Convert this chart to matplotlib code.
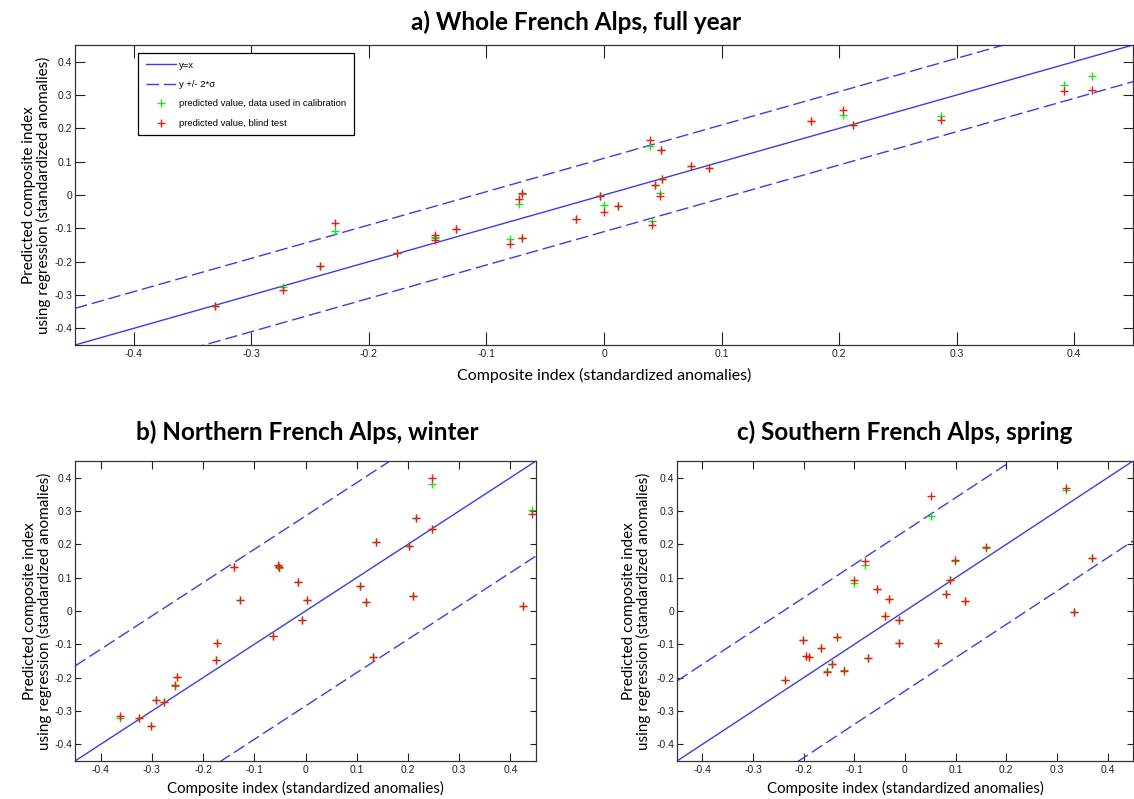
import numpy as np
import matplotlib
matplotlib.use("Agg")
import matplotlib.pyplot as plt
from matplotlib import font_manager

# ---------------------------------------------------------------- data
# a) whole French Alps, full year
xa = [-0.331, -0.273, -0.242, -0.229, -0.176, -0.144, -0.144, -0.126,
      -0.080, -0.0725, -0.070, -0.070, -0.024, -0.003, 0.000, 0.0115,
      0.039, 0.0485, 0.043, 0.049, 0.048, 0.041, 0.074, 0.089,
      0.176, 0.203, 0.212, 0.287, 0.391, 0.415]
ya_cal = [-0.334, -0.276, -0.214, -0.108, -0.174, -0.125, -0.130, -0.103,
          -0.132, -0.028, 0.002, -0.129, -0.073, -0.003, -0.031, -0.033,
          0.146, 0.135, 0.031, 0.047, 0.005, -0.078, 0.087, 0.082,
          0.221, 0.240, 0.210, 0.236, 0.331, 0.356]
ya_blind = [-0.334, -0.284, -0.212, -0.083, -0.174, -0.121, -0.134, -0.103,
            -0.146, -0.013, 0.007, -0.129, -0.073, -0.003, -0.050, -0.033,
            0.166, 0.135, 0.031, 0.047, -0.003, -0.090, 0.087, 0.082,
            0.221, 0.255, 0.210, 0.224, 0.311, 0.315]
sig2_a = 0.11

# b) northern French Alps, winter
xb = [-0.363, -0.325, -0.301, -0.291, -0.276, -0.254, -0.250, -0.175,
      -0.172, -0.139, -0.127, -0.064, -0.054, -0.051, -0.014, -0.006,
      0.002, 0.107, 0.118, 0.132, 0.137, 0.203, 0.210, 0.216,
      0.247, 0.247, 0.424, 0.442]
yb_cal = [-0.320, -0.322, -0.344, -0.268, -0.272, -0.226, -0.199, -0.146,
          -0.096, 0.133, 0.034, -0.074, 0.134, 0.130, 0.086, -0.026,
          0.034, 0.074, 0.026, -0.138, 0.206, 0.194, 0.046, 0.280,
          0.382, 0.247, 0.016, 0.302]
yb_blind = [-0.316, -0.322, -0.344, -0.268, -0.272, -0.222, -0.199, -0.146,
            -0.096, 0.133, 0.034, -0.074, 0.139, 0.132, 0.086, -0.026,
            0.034, 0.074, 0.026, -0.138, 0.206, 0.194, 0.046, 0.280,
            0.398, 0.247, 0.016, 0.290]
sig2_b = 0.285

# c) southern French Alps, spring
xc = [-0.237, -0.201, -0.195, -0.190, -0.165, -0.153, -0.145, -0.134,
      -0.121, -0.101, -0.078, -0.073, -0.056, -0.040, -0.031, -0.012,
      -0.012, 0.052, 0.065, 0.080, 0.088, 0.099, 0.118, 0.160,
      0.317, 0.333, 0.370]
yc_cal = [-0.208, -0.086, -0.134, -0.138, -0.112, -0.180, -0.158, -0.078,
          -0.177, 0.084, 0.139, -0.141, 0.065, -0.014, 0.036, -0.026,
          -0.096, 0.284, -0.096, 0.051, 0.094, 0.150, 0.031, 0.189,
          0.364, -0.003, 0.158]
yc_blind = [-0.208, -0.086, -0.134, -0.138, -0.112, -0.182, -0.158, -0.078,
            -0.179, 0.092, 0.149, -0.141, 0.065, -0.014, 0.036, -0.026,
            -0.096, 0.346, -0.096, 0.051, 0.094, 0.152, 0.031, 0.191,
            0.369, -0.003, 0.158]
sig2_c = 0.24

ticks = [-0.4, -0.3, -0.2, -0.1, 0, 0.1, 0.2, 0.3, 0.4]
tick_labels = ['-0.4', '-0.3', '-0.2', '-0.1', '0', '0.1', '0.2', '0.3', '0.4']
lims = np.array([-0.45, 0.45])

BLUE = '#3c3ce6'
GREEN = '#1fe01f'
RED = '#f01818'
# narrow helvetica look of the original, if the narrow face is there
names = set(f.name for f in font_manager.fontManager.ttflist)
if 'Liberation Sans Narrow' in names:
    TICKFONT = ['Liberation Sans Narrow']
    tsize, lsize = 8.5, 7.8
else:
    TICKFONT = ['Liberation Sans']
    tsize, lsize = 7.5, 6.8
LABFONT = ['Lato', 'DejaVu Sans']

fig = plt.figure(figsize=(11.34, 7.99), dpi=100)
W, H = 1134.0, 799.0

def panel(left, top, right, bottom, x, ycal, yblind, sig2, title, title_x, title_pad,
          xtl, ytl, ylab_x, xlab_y, xlab_size, legend=False):
    ax = fig.add_axes([left / W, 1 - bottom / H, (right - left) / W, (bottom - top) / H])
    ax.plot(lims, lims, '-', color=BLUE, lw=1.0, label='y=x')
    ax.plot(lims, lims + sig2, color=BLUE, lw=1.0, dashes=(9, 3.5), label='y +/- 2*\u03c3')
    ax.plot(lims, lims - sig2, color=BLUE, lw=1.0, dashes=(9, 3.5))
    ax.plot(x, ycal, '+', color=GREEN, ms=6, mew=1.0, label='predicted value, data used in calibration')
    ax.plot(x, yblind, '+', color=RED, ms=6, mew=1.0, label='predicted value, blind test')
    ax.set_xlim(lims)
    ax.set_ylim(lims)
    ax.set_xticks(ticks)
    ax.set_yticks(ticks)
    ax.set_xticklabels(tick_labels, family=TICKFONT, fontsize=tsize)
    ax.set_yticklabels(tick_labels, family=TICKFONT, fontsize=tsize)
    ax.tick_params(axis='x', direction='in', top=True, length=xtl, width=0.8, pad=3, colors='#222222')
    ax.tick_params(axis='y', direction='in', right=True, length=ytl, width=0.8, pad=2, colors='#222222')
    for s in ax.spines.values():
        s.set_linewidth(0.9)
        s.set_color('#333333')
    ax.set_title(title, family=LABFONT, fontweight='bold', fontsize=17.5, pad=title_pad, x=title_x)
    ax.set_xlabel('Composite index (standardized anomalies)', family=LABFONT, fontsize=xlab_size)
    ax.xaxis.set_label_coords(0.5, xlab_y)
    ax.xaxis.label.set_va('top')
    ax.set_ylabel('Predicted composite index\nusing regression (standardized anomalies)',
                  family=LABFONT, fontsize=11, linespacing=1.0)
    ax.yaxis.set_label_coords(ylab_x, 0.5)
    if legend:
        leg = ax.legend(loc='upper left', bbox_to_anchor=(0.06, 0.973), borderaxespad=0,
                        prop={'family': TICKFONT, 'size': lsize}, fancybox=False,
                        framealpha=1, edgecolor='black', handlelength=3.2,
                        handletextpad=0.3, borderpad=0.8, labelspacing=1.1)
        leg.get_frame().set_linewidth(0.9)
    return ax

panel(75, 45, 1133, 345, xa, ya_cal, ya_blind, sig2_a,
      'a) Whole French Alps, full year', 0.4735, 10.5,
      9.5, 7, -0.0227, -0.075, 11.5, legend=True)
panel(75, 461, 536, 761, xb, yb_cal, yb_blind, sig2_b,
      'b) Northern French Alps, winter', 0.505, 15,
      5.5, 4, -0.050, -0.066, 10.8)
panel(677, 461, 1133, 761, xc, yc_cal, yc_blind, sig2_c,
      'c) Southern French Alps, spring', 0.5, 15,
      5.5, 4, -0.057, -0.066, 10.8)

fig.savefig('out.png', dpi=100)
